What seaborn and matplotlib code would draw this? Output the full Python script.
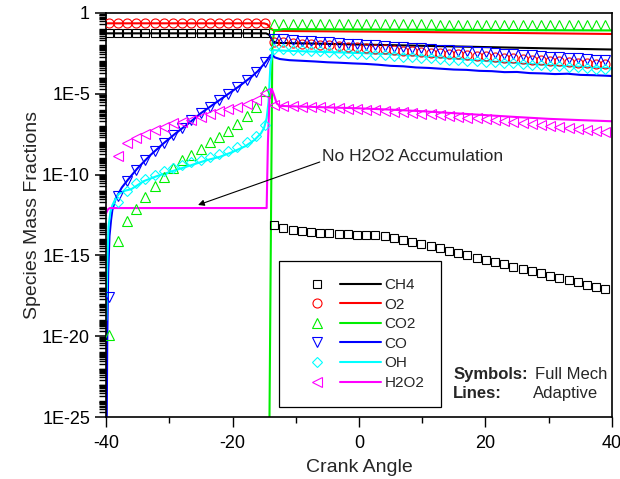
"""
Species mass fractions vs crank angle: full mechanism (symbols)
against the adaptive scheme (lines).
"""
import matplotlib
matplotlib.use("Agg")
import matplotlib.pyplot as plt
from matplotlib.legend_handler import HandlerTuple
from matplotlib.lines import Line2D
from matplotlib.ticker import FixedLocator, FuncFormatter, LogLocator
import numpy as np
import seaborn as sns

# crank angles of the full mechanism output (symbols)
CA_SYM = [-39.6, -38.15, -36.69, -35.24, -33.78, -32.33, -30.87, -29.42,
          -27.96, -26.51, -25.05, -23.6, -22.14, -20.69, -19.23, -17.78,
          -16.32, -14.87, -13.41, -11.96, -10.5, -9.05, -7.59, -6.14, -4.68,
          -3.23, -1.77, -0.32, 1.14, 2.59, 4.05, 5.5, 6.96, 8.41, 9.87,
          11.32, 12.78, 14.23, 15.69, 17.14, 18.6, 20.05, 21.51, 22.96,
          24.42, 25.87, 27.33, 28.78, 30.24, 31.69, 33.15, 34.6, 36.06,
          37.51, 38.97]

# log10 of mass fraction, full mechanism
CH4_SYM = [-1.26, -1.26, -1.26, -1.26, -1.26, -1.26, -1.26, -1.26, -1.26,
           -1.26, -1.26, -1.26, -1.26, -1.26, -1.26, -1.26, -1.26, -1.26,
           -13.1, -13.33, -13.45, -13.52, -13.57, -13.6, -13.63, -13.66,
           -13.69, -13.71, -13.73, -13.76, -13.8, -13.9, -14.02, -14.15,
           -14.29, -14.43, -14.57, -14.71, -14.85, -14.99, -15.13, -15.27,
           -15.41, -15.55, -15.69, -15.83, -15.97, -16.11, -16.25, -16.39,
           -16.53, -16.67, -16.81, -16.95, -17.1]
O2_SYM = [-0.64, -0.64, -0.64, -0.64, -0.64, -0.64, -0.64, -0.64, -0.64,
          -0.64, -0.64, -0.64, -0.64, -0.64, -0.64, -0.64, -0.64, -0.64,
          -1.78, -1.82, -1.86, -1.9, -1.94, -1.98, -2.01, -2.05, -2.09,
          -2.13, -2.17, -2.21, -2.25, -2.29, -2.33, -2.37, -2.41, -2.45,
          -2.48, -2.52, -2.56, -2.6, -2.64, -2.68, -2.72, -2.76, -2.8,
          -2.84, -2.88, -2.92, -2.96, -3.0, -3.03, -3.07, -3.11, -3.15,
          -3.18]
CO2_SYM = [-19.9, -14.1, -12.9, -12.1, -11.4, -10.7, -10.15, -9.6, -9.1,
           -8.8, -8.4, -8.0, -7.7, -7.3, -6.9, -6.4, -5.8, -4.8,
           -0.68, -0.68, -0.68, -0.68, -0.69, -0.69, -0.69, -0.69, -0.7,
           -0.7, -0.7, -0.7, -0.7, -0.71, -0.71, -0.71, -0.71, -0.71,
           -0.72, -0.72, -0.72, -0.72, -0.72, -0.72, -0.73, -0.73, -0.73,
           -0.73, -0.73, -0.74, -0.74, -0.74, -0.74, -0.74, -0.74, -0.74,
           -0.74]
CO_SYM = [-17.6, -11.3, -10.4, -9.7, -9.1, -8.55, -8.05, -7.55, -7.1, -6.65,
          -6.2, -5.8, -5.4, -5.0, -4.6, -4.15, -3.65, -3.05,
          -1.6, -1.64, -1.67, -1.71, -1.75, -1.78, -1.82, -1.86, -1.89,
          -1.93, -1.97, -2.0, -2.04, -2.08, -2.11, -2.15, -2.19, -2.22,
          -2.26, -2.3, -2.33, -2.37, -2.41, -2.44, -2.48, -2.52, -2.55,
          -2.59, -2.63, -2.66, -2.7, -2.74, -2.77, -2.81, -2.85, -2.88,
          -2.92]
OH_SYM = [np.nan, -11.7, -11.0, -10.55, -10.25, -10.0, -9.8, -9.6, -9.42,
          -9.25, -9.08, -8.9, -8.72, -8.52, -8.3, -8.0, -7.6, -6.95,
          -2.2, -2.24, -2.27, -2.31, -2.34, -2.38, -2.41, -2.45, -2.48,
          -2.52, -2.56, -2.59, -2.63, -2.66, -2.7, -2.73, -2.77, -2.8,
          -2.84, -2.88, -2.91, -2.95, -2.98, -3.02, -3.05, -3.09, -3.12,
          -3.16, -3.2, -3.23, -3.27, -3.3, -3.34, -3.37, -3.41, -3.44,
          -3.48]
H2O2_SYM = [np.nan, -8.85, -8.05, -7.75, -7.5, -7.27, -7.03, -6.8, -6.72,
            -6.6, -6.43, -6.25, -6.08, -5.95, -5.8, -5.62, -5.4, -4.95,
            -5.72, -5.75, -5.77, -5.79, -5.81, -5.84, -5.86, -5.89, -5.92,
            -5.95, -5.98, -6.02, -6.06, -6.1, -6.14, -6.18, -6.22, -6.27,
            -6.32, -6.37, -6.42, -6.47, -6.52, -6.58, -6.64, -6.7, -6.76,
            -6.82, -6.88, -6.94, -7.0, -7.06, -7.12, -7.18, -7.24, -7.3,
            -7.37]

# adaptive scheme (lines), vertices in crank angle / log10 fraction
CH4_LX = [-40, -14.7, -14.2, -13.6, -13.0, 0, 10, 20, 30, 40]
CH4_LY = [-1.26, -1.26, -1.35, -1.75, -1.85, -1.95, -2.03, -2.11, -2.19,
          -2.26]
O2_LX = [-40, -15.0, -14.5, -14.0, -13.4, -10, 0, 10, 20, 30, 40]
O2_LY = [-0.64, -0.64, -0.7, -0.95, -1.1, -1.12, -1.15, -1.18, -1.22,
         -1.26, -1.3]
CO2_LX = [-40, -14.25, -13.7, -13.4, -12, 0, 20, 40]
CO2_LY = [-30, -30, -2.0, -1.1, -1.0, -1.02, -1.05, -1.08]
CO_LX = [-39.9, -39.8, -39.65, -39.45, -39.2, -39.0, -38.5, -37.5, -36.5,
         -35, -33, -31, -29, -27, -25, -23, -21, -19, -17, -16, -15, -14.5,
         -14.0, -13.7, -13.3, -12.5, -11, -9, -7, -5, -3, -1, 1, 3, 5, 7, 9,
         11, 13, 15, 17, 19, 21, 23, 25, 27, 29, 31, 33, 35, 37, 39, 40]
CO_LY = [-26, -20, -16, -13.8, -12.8, -12.2, -11.5, -10.8, -10.3, -9.6,
         -8.8, -8.1, -7.45, -6.85, -6.2, -5.65, -5.1, -4.55, -3.95, -3.6,
         -3.15, -2.9, -2.62, -2.6, -2.75, -2.85, -2.92, -2.96, -3.0, -3.05,
         -3.08, -3.12, -3.15, -3.2, -3.27, -3.3, -3.37, -3.4, -3.45, -3.5,
         -3.52, -3.58, -3.6, -3.66, -3.65, -3.72, -3.74, -3.78, -3.76,
         -3.83, -3.85, -3.88, -3.9]
OH_LX = [-39.95, -39.8, -39.6, -39.3, -39.0, -38.5, -38, -37, -36, -34,
         -32, -30, -28, -26, -24, -22, -20, -18, -16.5, -15.5, -15.0, -14.6,
         -14.3, -14.0, -13.6, -12, -8, -4, 0, 4, 8, 12, 16, 20, 24, 28, 32,
         36, 40]
OH_LY = [-19, -15.5, -13.2, -12.3, -11.9, -11.5, -11.2, -11.0, -10.9,
         -10.4, -10.1, -9.85, -9.6, -9.35, -9.1, -8.9, -8.6, -8.25, -7.85,
         -7.45, -7.1, -6.5, -5.5, -3.2, -2.3, -2.33, -2.38, -2.43, -2.48,
         -2.53, -2.62, -2.73, -2.85, -2.97, -3.08, -3.18, -3.27, -3.35,
         -3.42]
H2O2_LX = [-40, -39.7, -39.4, -14.6, -14.4, -14.15, -13.8, -13.5, -13.0,
           -12.5, -10, -5, 0, 5, 10, 15, 20, 25, 30, 35, 40]
H2O2_LY = [-12.4, -12.15, -12.07, -12.07, -8.0, -5.3, -4.7, -5.0, -5.6,
           -5.75, -5.78, -5.84, -5.9, -5.98, -6.08, -6.2, -6.32, -6.44,
           -6.55, -6.63, -6.7]

SPECIES = ['CH4', 'O2', 'CO2', 'CO', 'OH', 'H2O2']
COLORS = ['black', '#ff0000', '#00ee00', '#0000ff', '#00ffff', '#ff00ff']
MARKERS = ['s', 'o', '^', 'v', 'D', '<']
MSIZES = [5.8, 6.5, 6.9, 6.9, 5.5, 6.9]

Y_TICKS = [1e-25, 1e-20, 1e-15, 1e-10, 1e-5, 1]


def fmt_exp(v, pos):
    """label powers of ten the way the original plot does (1, 1E-5 ...)"""
    e = int(round(np.log10(v)))
    return '1' if e == 0 else f'1E{e}'


def main():
    sns.set_style('ticks')
    plt.rcParams['font.family'] = ['Liberation Sans', 'DejaVu Sans']
    plt.rcParams['axes.unicode_minus'] = False

    fig = plt.figure(figsize=(6.2, 4.79), dpi=100)
    ax = fig.add_axes([0.171, 0.1294, 0.816, 0.8435])
    ax.set_yscale('log')

    sym = [CH4_SYM, O2_SYM, CO2_SYM, CO_SYM, OH_SYM, H2O2_SYM]
    lines = [(CH4_LX, CH4_LY), (O2_LX, O2_LY), (CO2_LX, CO2_LY),
             (CO_LX, CO_LY), (OH_LX, OH_LY), (H2O2_LX, H2O2_LY)]

    # adaptive lines first, symbols over them
    for (lx, ly), c in zip(lines, COLORS):
        sns.lineplot(x=lx, y=10.0 ** np.array(ly), color=c, lw=1.5,
                     estimator=None, sort=False, ax=ax, zorder=2)
    for vals, c, m, ms in zip(sym, COLORS, MARKERS, MSIZES):
        sns.lineplot(x=CA_SYM, y=10.0 ** np.array(vals), color=c,
                     linestyle='', marker=m, markersize=ms,
                     markerfacecolor='none', markeredgecolor=c,
                     markeredgewidth=0.8, estimator=None, sort=False,
                     ax=ax, zorder=3)

    ax.set_xlim(-40, 40)
    ax.set_ylim(1e-25, 1)
    ax.set_xticks([-40, -20, 0, 20, 40])
    ax.set_xticks([-30, -10, 10, 30], minor=True)
    ax.yaxis.set_major_locator(FixedLocator(Y_TICKS))
    ax.yaxis.set_minor_locator(LogLocator(base=10, subs=np.arange(1, 10),
                                          numticks=400))
    ax.yaxis.set_major_formatter(FuncFormatter(fmt_exp))
    ax.yaxis.set_minor_formatter(FuncFormatter(lambda v, p: ''))
    ax.tick_params(axis='both', which='both', direction='out', top=False,
                   right=False, labelsize=13, colors='black')
    ax.tick_params(axis='x', which='major', length=7, width=1, pad=6)
    ax.tick_params(axis='x', which='minor', length=4, width=1)
    ax.tick_params(axis='y', which='major', length=8, width=1.1)
    ax.tick_params(axis='y', which='minor', length=5, width=1.0)
    for sp in ax.spines.values():
        sp.set_color('black')
        sp.set_linewidth(1.2)

    ax.set_xlabel('Crank Angle', fontsize=14, labelpad=5)
    ax.set_ylabel('Species Mass Fractions', fontsize=14, labelpad=1)

    # legend: symbol, then line, then name
    handles = []
    for c, m, ms in zip(COLORS, MARKERS, MSIZES):
        h_sym = Line2D([], [], ls='', marker=m, ms=ms, mfc='none', mec=c,
                       mew=0.8)
        h_line = Line2D([], [], color=c, lw=1.5)
        handles.append((h_sym, h_line))
    leg = ax.legend(handles, SPECIES, loc='upper left',
                    bbox_to_anchor=(0.342, 0.386), borderaxespad=0,
                    handler_map={tuple: HandlerTuple(ndivide=None, pad=0.13)},
                    handlelength=5.6, handletextpad=0.2, borderpad=1.1,
                    labelspacing=0.37, fontsize=11, fancybox=False,
                    framealpha=1, edgecolor='black')
    leg.get_frame().set_linewidth(0.9)

    ax.text(0.686, 0.106, 'Symbols:', transform=ax.transAxes, fontsize=12,
            fontweight='bold', va='center', ha='left')
    ax.text(0.848, 0.106, 'Full Mech', transform=ax.transAxes, fontsize=12,
            va='center', ha='left')
    ax.text(0.686, 0.057, 'Lines:', transform=ax.transAxes, fontsize=12,
            fontweight='bold', va='center', ha='left')
    ax.text(0.844, 0.057, 'Adaptive', transform=ax.transAxes, fontsize=12,
            va='center', ha='left')

    # annotation for the flat H2O2 line
    ax.text(-5.9, 10 ** -8.91, 'No H2O2 Accumulation', fontsize=12.5,
            va='center', ha='left')
    ax.annotate('', xy=(-25.45, 10 ** -11.88), xytext=(-6.2, 10 ** -9.22),
                arrowprops=dict(arrowstyle='-|>', color='black', lw=0.8,
                                mutation_scale=9, shrinkA=0, shrinkB=0))

    fig.savefig('out.png', dpi=100)
    plt.close(fig)


if __name__ == '__main__':
    main()
